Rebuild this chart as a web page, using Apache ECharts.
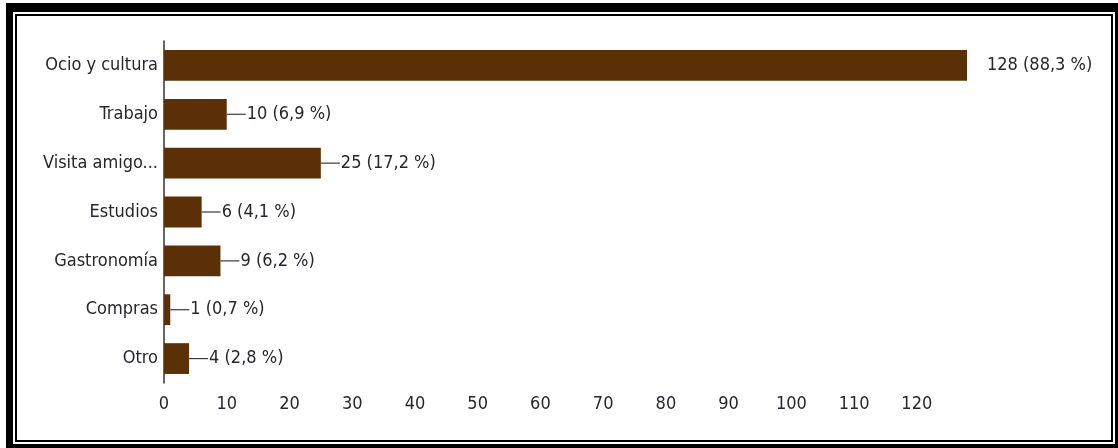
<!DOCTYPE html>
<html>
<head>
<meta charset="utf-8">
<script src="https://cdn.jsdelivr.net/npm/echarts@6/dist/echarts.min.js"></script>
<style>
  html, body { margin: 0; padding: 0; background: #fff; }
  #chart { width: 1118px; height: 448px; }
</style>
</head>
<body>
<div id="chart"></div>
<script>
// Motivo del viaje: respuestas por categoría
const categories = ['Ocio y cultura', 'Trabajo', 'Visita amigo...', 'Estudios', 'Gastronomía', 'Compras', 'Otro'];
const counts = [128, 10, 25, 6, 9, 1, 4];
const percents = ['88,3', '6,9', '17,2', '4,1', '6,2', '0,7', '2,8'];
const xTicks = [0, 10, 20, 30, 40, 50, 60, 70, 80, 90, 100, 110, 120];

const FONT = '"Liberation Sans Narrow", "Arial Narrow", "DejaVu Sans Condensed", sans-serif';
const TEXT = '#262630';
const SIZE = 18;

const chart = echarts.init(document.getElementById('chart'), null, { renderer: 'canvas' });

chart.setOption({
  animation: false,
  backgroundColor: '#fff',
  grid: { left: 164, right: 151, top: 41, bottom: 65, containLabel: false },
  xAxis: {
    type: 'value',
    min: 0,
    max: Math.max(...counts),
    interval: 10,
    axisLine: { show: false },
    axisTick: { show: false },
    splitLine: { show: false },
    axisLabel: {
      showMaxLabel: false,
      margin: 12,
      color: TEXT,
      fontFamily: FONT,
      fontSize: SIZE,
      formatter: v => (xTicks.includes(v) ? String(v) : '')
    }
  },
  yAxis: {
    type: 'category',
    data: categories,
    inverse: true,
    axisLine: { show: true, lineStyle: { color: '#333', width: 1.5 } },
    axisTick: { show: false },
    axisLabel: { margin: 6, color: TEXT, fontFamily: FONT, fontSize: SIZE }
  },
  series: [{
    type: 'bar',
    data: counts,
    barCategoryGap: '37%',
    itemStyle: { color: '#5b3006' },
    label: {
      show: true,
      position: 'right',
      distance: 0,
      // short leader line before each value, left out on the longest bar
      formatter: p => (p.dataIndex === 0 ? '{gap| }' : '{ln| }') + '{v|' + p.value + ' (' + percents[p.dataIndex] + ' %)}',
      rich: {
        ln: { width: 19, height: 1.2, backgroundColor: '#3a3a3a' },
        gap: { width: 19, height: 1 },
        v: { color: TEXT, fontFamily: FONT, fontSize: SIZE, padding: [0, 0, 0, 1] }
      }
    }
  }],
  graphic: [
    // heavy outer frame
    { type: 'rect', silent: true, shape: { x: 6, y: 3, width: 1112, height: 9 }, style: { fill: '#000' } },
    { type: 'rect', silent: true, shape: { x: 6, y: 3, width: 7, height: 445 }, style: { fill: '#000' } },
    { type: 'rect', silent: true, shape: { x: 1115, y: 3, width: 3, height: 445 }, style: { fill: '#000' } },
    { type: 'rect', silent: true, shape: { x: 6, y: 444, width: 1112, height: 4 }, style: { fill: '#000' } },
    // thin inner frame
    { type: 'rect', silent: true, shape: { x: 16, y: 15, width: 1096, height: 426 }, style: { fill: 'none', stroke: '#000', lineWidth: 2 } }
  ]
});
</script>
</body>
</html>
